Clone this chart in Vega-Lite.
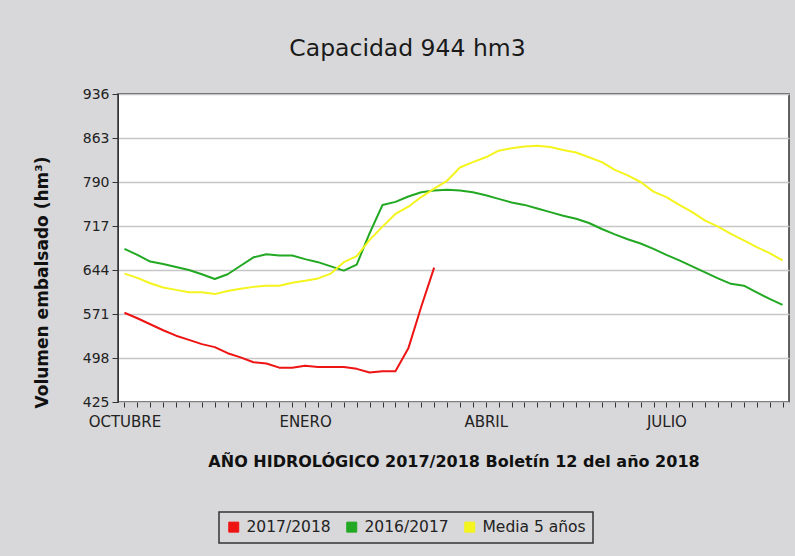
{
  "$schema": "https://vega.github.io/schema/vega-lite/v6.json",
  "autosize": {"type": "none"},
  "width": 671,
  "height": 308,
  "padding": {"left": 118, "top": 94, "right": 6, "bottom": 154},
  "background": "#d8d8da",
  "config": {
    "font": "DejaVu Sans",
    "view": {"fill": "white", "stroke": "#333333", "strokeWidth": 1.5}
  },
  "title": {
    "text": "Capacidad 944 hm3",
    "font": "DejaVu Sans",
    "fontSize": 23.5,
    "fontWeight": "normal",
    "color": "#1a1a1a",
    "anchor": "middle",
    "frame": "group",
    "dx": -46,
    "offset": 27
  },
  "datasets": {
    "series": [
      {"semana": 1, "serie": "2017/2018", "volumen": 573},
      {"semana": 2, "serie": "2017/2018", "volumen": 564},
      {"semana": 3, "serie": "2017/2018", "volumen": 554},
      {"semana": 4, "serie": "2017/2018", "volumen": 544},
      {"semana": 5, "serie": "2017/2018", "volumen": 535},
      {"semana": 6, "serie": "2017/2018", "volumen": 528},
      {"semana": 7, "serie": "2017/2018", "volumen": 521},
      {"semana": 8, "serie": "2017/2018", "volumen": 516},
      {"semana": 9, "serie": "2017/2018", "volumen": 506},
      {"semana": 10, "serie": "2017/2018", "volumen": 499},
      {"semana": 11, "serie": "2017/2018", "volumen": 491},
      {"semana": 12, "serie": "2017/2018", "volumen": 489},
      {"semana": 13, "serie": "2017/2018", "volumen": 482},
      {"semana": 14, "serie": "2017/2018", "volumen": 482},
      {"semana": 15, "serie": "2017/2018", "volumen": 485},
      {"semana": 16, "serie": "2017/2018", "volumen": 483},
      {"semana": 17, "serie": "2017/2018", "volumen": 483},
      {"semana": 18, "serie": "2017/2018", "volumen": 483},
      {"semana": 19, "serie": "2017/2018", "volumen": 480},
      {"semana": 20, "serie": "2017/2018", "volumen": 474},
      {"semana": 21, "serie": "2017/2018", "volumen": 476},
      {"semana": 22, "serie": "2017/2018", "volumen": 476},
      {"semana": 23, "serie": "2017/2018", "volumen": 514},
      {"semana": 24, "serie": "2017/2018", "volumen": 583},
      {"semana": 25, "serie": "2017/2018", "volumen": 648},
      {"semana": 1, "serie": "2016/2017", "volumen": 679},
      {"semana": 2, "serie": "2016/2017", "volumen": 669},
      {"semana": 3, "serie": "2016/2017", "volumen": 658},
      {"semana": 4, "serie": "2016/2017", "volumen": 654},
      {"semana": 5, "serie": "2016/2017", "volumen": 649},
      {"semana": 6, "serie": "2016/2017", "volumen": 644},
      {"semana": 7, "serie": "2016/2017", "volumen": 637},
      {"semana": 8, "serie": "2016/2017", "volumen": 629},
      {"semana": 9, "serie": "2016/2017", "volumen": 637},
      {"semana": 10, "serie": "2016/2017", "volumen": 651},
      {"semana": 11, "serie": "2016/2017", "volumen": 665},
      {"semana": 12, "serie": "2016/2017", "volumen": 670},
      {"semana": 13, "serie": "2016/2017", "volumen": 668},
      {"semana": 14, "serie": "2016/2017", "volumen": 668},
      {"semana": 15, "serie": "2016/2017", "volumen": 662},
      {"semana": 16, "serie": "2016/2017", "volumen": 657},
      {"semana": 17, "serie": "2016/2017", "volumen": 650},
      {"semana": 18, "serie": "2016/2017", "volumen": 643},
      {"semana": 19, "serie": "2016/2017", "volumen": 653},
      {"semana": 20, "serie": "2016/2017", "volumen": 705},
      {"semana": 21, "serie": "2016/2017", "volumen": 752},
      {"semana": 22, "serie": "2016/2017", "volumen": 757},
      {"semana": 23, "serie": "2016/2017", "volumen": 766},
      {"semana": 24, "serie": "2016/2017", "volumen": 773},
      {"semana": 25, "serie": "2016/2017", "volumen": 776},
      {"semana": 26, "serie": "2016/2017", "volumen": 777},
      {"semana": 27, "serie": "2016/2017", "volumen": 776},
      {"semana": 28, "serie": "2016/2017", "volumen": 773},
      {"semana": 29, "serie": "2016/2017", "volumen": 768},
      {"semana": 30, "serie": "2016/2017", "volumen": 762},
      {"semana": 31, "serie": "2016/2017", "volumen": 756},
      {"semana": 32, "serie": "2016/2017", "volumen": 752},
      {"semana": 33, "serie": "2016/2017", "volumen": 746},
      {"semana": 34, "serie": "2016/2017", "volumen": 740},
      {"semana": 35, "serie": "2016/2017", "volumen": 734},
      {"semana": 36, "serie": "2016/2017", "volumen": 729},
      {"semana": 37, "serie": "2016/2017", "volumen": 722},
      {"semana": 38, "serie": "2016/2017", "volumen": 712},
      {"semana": 39, "serie": "2016/2017", "volumen": 703},
      {"semana": 40, "serie": "2016/2017", "volumen": 695},
      {"semana": 41, "serie": "2016/2017", "volumen": 688},
      {"semana": 42, "serie": "2016/2017", "volumen": 679},
      {"semana": 43, "serie": "2016/2017", "volumen": 669},
      {"semana": 44, "serie": "2016/2017", "volumen": 660},
      {"semana": 45, "serie": "2016/2017", "volumen": 650},
      {"semana": 46, "serie": "2016/2017", "volumen": 640},
      {"semana": 47, "serie": "2016/2017", "volumen": 630},
      {"semana": 48, "serie": "2016/2017", "volumen": 621},
      {"semana": 49, "serie": "2016/2017", "volumen": 618},
      {"semana": 50, "serie": "2016/2017", "volumen": 607},
      {"semana": 51, "serie": "2016/2017", "volumen": 596},
      {"semana": 52, "serie": "2016/2017", "volumen": 586},
      {"semana": 1, "serie": "Media 5 años", "volumen": 638},
      {"semana": 2, "serie": "Media 5 años", "volumen": 631},
      {"semana": 3, "serie": "Media 5 años", "volumen": 622},
      {"semana": 4, "serie": "Media 5 años", "volumen": 615},
      {"semana": 5, "serie": "Media 5 años", "volumen": 611},
      {"semana": 6, "serie": "Media 5 años", "volumen": 607},
      {"semana": 7, "serie": "Media 5 años", "volumen": 607},
      {"semana": 8, "serie": "Media 5 años", "volumen": 604},
      {"semana": 9, "serie": "Media 5 años", "volumen": 609},
      {"semana": 10, "serie": "Media 5 años", "volumen": 613},
      {"semana": 11, "serie": "Media 5 años", "volumen": 616},
      {"semana": 12, "serie": "Media 5 años", "volumen": 618},
      {"semana": 13, "serie": "Media 5 años", "volumen": 618},
      {"semana": 14, "serie": "Media 5 años", "volumen": 623},
      {"semana": 15, "serie": "Media 5 años", "volumen": 626},
      {"semana": 16, "serie": "Media 5 años", "volumen": 630},
      {"semana": 17, "serie": "Media 5 años", "volumen": 638},
      {"semana": 18, "serie": "Media 5 años", "volumen": 657},
      {"semana": 19, "serie": "Media 5 años", "volumen": 667},
      {"semana": 20, "serie": "Media 5 años", "volumen": 694},
      {"semana": 21, "serie": "Media 5 años", "volumen": 716},
      {"semana": 22, "serie": "Media 5 años", "volumen": 737},
      {"semana": 23, "serie": "Media 5 años", "volumen": 749},
      {"semana": 24, "serie": "Media 5 años", "volumen": 765},
      {"semana": 25, "serie": "Media 5 años", "volumen": 779},
      {"semana": 26, "serie": "Media 5 años", "volumen": 792},
      {"semana": 27, "serie": "Media 5 años", "volumen": 814},
      {"semana": 28, "serie": "Media 5 años", "volumen": 823},
      {"semana": 29, "serie": "Media 5 años", "volumen": 831},
      {"semana": 30, "serie": "Media 5 años", "volumen": 842},
      {"semana": 31, "serie": "Media 5 años", "volumen": 846},
      {"semana": 32, "serie": "Media 5 años", "volumen": 849},
      {"semana": 33, "serie": "Media 5 años", "volumen": 850},
      {"semana": 34, "serie": "Media 5 años", "volumen": 848},
      {"semana": 35, "serie": "Media 5 años", "volumen": 843},
      {"semana": 36, "serie": "Media 5 años", "volumen": 839},
      {"semana": 37, "serie": "Media 5 años", "volumen": 831},
      {"semana": 38, "serie": "Media 5 años", "volumen": 823},
      {"semana": 39, "serie": "Media 5 años", "volumen": 810},
      {"semana": 40, "serie": "Media 5 años", "volumen": 801},
      {"semana": 41, "serie": "Media 5 años", "volumen": 790},
      {"semana": 42, "serie": "Media 5 años", "volumen": 774},
      {"semana": 43, "serie": "Media 5 años", "volumen": 765},
      {"semana": 44, "serie": "Media 5 años", "volumen": 752},
      {"semana": 45, "serie": "Media 5 años", "volumen": 740},
      {"semana": 46, "serie": "Media 5 años", "volumen": 726},
      {"semana": 47, "serie": "Media 5 años", "volumen": 716},
      {"semana": 48, "serie": "Media 5 años", "volumen": 704},
      {"semana": 49, "serie": "Media 5 años", "volumen": 693},
      {"semana": 50, "serie": "Media 5 años", "volumen": 682},
      {"semana": 51, "serie": "Media 5 años", "volumen": 672},
      {"semana": 52, "serie": "Media 5 años", "volumen": 660}
    ]
  },
  "data": {"name": "series"},
  "mark": {"type": "line", "strokeWidth": 2, "strokeJoin": "round"},
  "encoding": {
    "x": {
      "field": "semana",
      "type": "quantitative",
      "scale": {"domain": [0.5, 52.5], "nice": false, "zero": false},
      "axis": {
        "title": "AÑO HIDROLÓGICO 2017/2018 Boletín 12 del año 2018",
        "titleFont": "DejaVu Sans",
        "titleFontSize": 16,
        "titleFontWeight": "bold",
        "titleColor": "#111111",
        "titlePadding": 24,
        "values": [1,2,3,4,5,6,7,8,9,10,11,12,13,14,15,16,17,18,19,20,21,22,23,24,25,26,27,28,29,30,31,32,33,34,35,36,37,38,39,40,41,42,43,44,45,46,47,48,49,50,51,52],
        "labelExpr": "datum.value == 1 ? 'OCTUBRE' : datum.value == 15 ? 'ENERO' : datum.value == 29 ? 'ABRIL' : datum.value == 43 ? 'JULIO' : ''",
        "labelOverlap": false,
        "labelBound": false,
        "labelFlush": false,
        "labelFont": "DejaVu Sans",
        "labelFontSize": 15,
        "labelColor": "#222222",
        "labelPadding": 7,
        "tickSize": 5,
        "tickColor": "#333333",
        "domain": false,
        "grid": false
      }
    },
    "y": {
      "field": "volumen",
      "type": "quantitative",
      "scale": {"domain": [425, 936], "nice": false, "zero": false},
      "axis": {
        "title": "Volumen embalsado (hm³)",
        "titleFont": "DejaVu Sans",
        "titleFontSize": 17,
        "titleFontWeight": "bold",
        "titleColor": "#111111",
        "titleX": -67,
        "titleY": 188,
        "values": [425, 498, 571, 644, 717, 790, 863, 936],
        "labelFont": "DejaVu Sans",
        "labelFontSize": 14,
        "labelColor": "#222222",
        "labelPadding": 3,
        "tickSize": 6,
        "tickColor": "#333333",
        "domain": true,
        "domainColor": "#333333",
        "grid": true,
        "gridColor": "#c6c6c6",
        "gridWidth": 1.5
      }
    },
    "color": {
      "field": "serie",
      "type": "nominal",
      "scale": {
        "domain": ["2017/2018", "2016/2017", "Media 5 años"],
        "range": ["#ee1414", "#22a822", "#f4f41e"]
      },
      "legend": {
        "title": null,
        "orient": "none",
        "direction": "horizontal",
        "legendX": 101,
        "legendY": 418,
        "symbolType": "square",
        "symbolSize": 100,
        "symbolStrokeColor": "#000000",
        "symbolStrokeWidth": 1,
        "labelFont": "DejaVu Sans",
        "labelFontSize": 15.5,
        "labelColor": "#222222",
        "labelOffset": 5,
        "columnPadding": 13,
        "padding": 7,
        "strokeColor": "#333333",
        "encode": {
          "legend": {
            "update": {
              "strokeWidth": {"value": 1.5}
            }
          },
          "symbols": {
            "update": {
              "fill": {"scale": "color", "field": "value"},
              "stroke": {"value": "#000000"},
              "strokeWidth": {"value": 1},
              "opacity": {"value": 1}
            }
          }
        }
      }
    }
  }
}
